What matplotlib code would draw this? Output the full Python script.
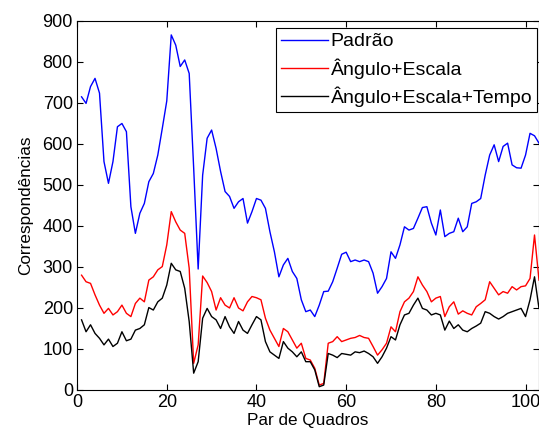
import matplotlib
matplotlib.use("Agg")
import matplotlib.pyplot as plt
import numpy as np

plt.rcParams["font.family"] = ["Liberation Sans", "DejaVu Sans"]

# correspondences per frame pair, three matching strategies
pairs = np.arange(1, 104)

padrao = [
    715, 699, 740, 760, 724, 557, 504, 557, 642, 650,
    630, 447, 382, 431, 455, 508, 528, 573, 638, 705,
    866, 841, 789, 805, 772, 541, 295, 524, 614, 634,
    589, 533, 484, 472, 443, 459, 467, 407, 435, 467,
    463, 443, 386, 337, 276, 305, 321, 289, 272, 220,
    191, 195, 179, 207, 240, 241, 264, 297, 331, 336,
    313, 317, 313, 317, 313, 285, 236, 252, 272, 337,
    321, 354, 398, 390, 394, 419, 445, 447, 407, 378,
    439, 374, 382, 386, 419, 386, 398, 455, 459, 467,
    524, 573, 598, 557, 594, 602, 549, 542, 541, 573,
    626, 620, 602,
]

angulo_escala = [
    280, 264, 260, 232, 207, 187, 199, 183, 191, 207,
    187, 179, 211, 224, 215, 268, 276, 293, 301, 354,
    435, 410, 390, 382, 297, 65, 110, 278, 262, 240,
    195, 225, 207, 200, 225, 200, 193, 215, 228, 225,
    220, 175, 146, 126, 106, 150, 142, 122, 102, 114,
    77, 73, 53, 12, 16, 114, 118, 130, 118, 122,
    126, 128, 133, 128, 126, 106, 85, 98, 114, 154,
    142, 191, 215, 224, 240, 276, 256, 240, 215, 224,
    228, 179, 203, 215, 185, 193, 187, 183, 203, 211,
    220, 264, 248, 232, 240, 236, 252, 244, 252, 254,
    272, 378, 268,
]

angulo_escala_tempo = [
    171, 142, 159, 138, 126, 110, 124, 106, 114, 142,
    120, 124, 146, 150, 159, 201, 195, 215, 224, 256,
    309, 293, 289, 248, 167, 41, 69, 175, 199, 179,
    171, 150, 179, 154, 138, 167, 146, 138, 159, 179,
    171, 118, 93, 85, 77, 118, 102, 93, 81, 93,
    69, 69, 49, 8, 12, 89, 85, 79, 89, 87,
    85, 93, 91, 95, 89, 81, 65, 81, 102, 130,
    122, 159, 183, 187, 207, 224, 199, 195, 183, 187,
    183, 146, 168, 150, 159, 146, 142, 150, 156, 163,
    191, 187, 179, 173, 179, 187, 191, 195, 199, 179,
    220, 276, 199,
]

labels = ["Padrão", "Ângulo+Escala", "Ângulo+Escala+Tempo"]

fig = plt.figure(figsize=(5.39, 4.37), dpi=100)
ax = fig.add_axes([0.143, 0.1076, 0.857, 0.8444])

ax.plot(pairs, padrao, color="#0000ff", lw=1.0, label=labels[0])
ax.plot(pairs, angulo_escala, color="#ff0000", lw=1.0, label=labels[1])
ax.plot(pairs, angulo_escala_tempo, color="#000000", lw=1.0, label=labels[2])

ax.set_xlim(0, 103)
ax.set_ylim(0, 900)
ax.set_xticks(np.arange(0, 101, 20))
ax.set_yticks(np.arange(0, 901, 100))
ax.tick_params(direction="in", top=True, right=True, labelsize=13, length=4, width=0.8, pad=3)
for s in ax.spines.values():
    s.set_linewidth(0.8)

ax.set_xlabel("Par de Quadros", fontsize=12.3, labelpad=1)
ax.set_ylabel("Correspondências", fontsize=12.3, labelpad=7)

leg = ax.legend(loc="upper right", bbox_to_anchor=(0.996, 0.981), borderaxespad=0,
                fontsize=14, fancybox=False, framealpha=1, edgecolor="black",
                handlelength=2.4, handletextpad=0.15, labelspacing=0.4,
                borderpad=0.25)
leg.get_frame().set_linewidth(0.8)

fig.savefig("out.png", dpi=100)
